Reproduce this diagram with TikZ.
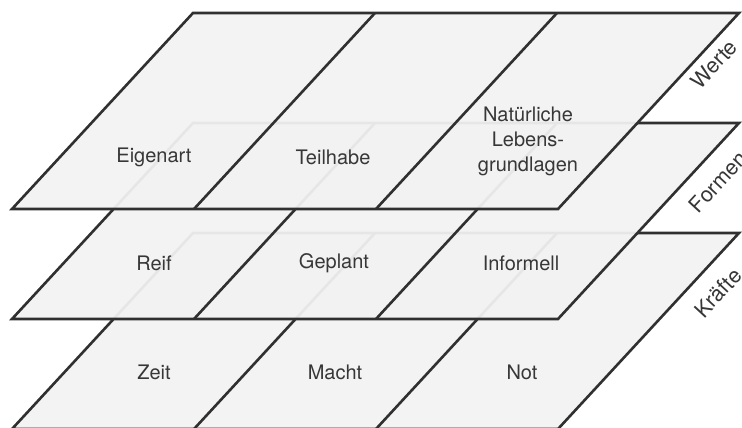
\documentclass[tikz,border=0pt]{standalone}
\usepackage{fontspec}
\setmainfont{TeX Gyre Heros}
\definecolor{planegray}{RGB}{242,242,242}
\definecolor{edgegray}{RGB}{48,48,48}
\definecolor{textgray}{RGB}{55,55,55}
\begin{document}
\begin{tikzpicture}[
    x=1pt, y=1pt,
    plane/.style={draw=edgegray, line width=2.6pt, fill=planegray,
                  fill opacity=0.94, line join=miter},
    divider/.style={draw=edgegray, line width=2.6pt},
    cell/.style={text=textgray, align=center,
                 font=\fontsize{20}{25}\selectfont},
    layer/.style={text=textgray, rotate=47.3,
                  font=\fontsize{21.5}{25}\selectfont},
]
\useasboundingbox (0,0) rectangle (742,428);

% Bottom layer: Kraefte
\begin{scope}[yshift=-220pt]
\filldraw[plane] (12,219) -- (558,219) -- (739,415) -- (193,415) -- cycle;
\draw[divider] (194,219) -- (375,415);
\draw[divider] (376,219) -- (557,415);
\node[cell] (zeit) at (154,276) {Zeit};
\node[cell] (macht) at (335,276) {Macht};
\node[cell] (not) at (522,276) {Not};
\node[layer] (kraefte) at (718,355) {Kräfte};
\end{scope}

% Middle layer: Formen
\begin{scope}[yshift=-110pt]
\filldraw[plane] (12,219) -- (558,219) -- (739,415) -- (193,415) -- cycle;
\draw[divider] (194,219) -- (375,415);
\draw[divider] (376,219) -- (557,415);
\node[cell] (reif) at (154,275) {Reif};
\node[cell] (geplant) at (334,275) {Geplant};
\node[cell] (informell) at (521,275) {Informell};
\node[layer] (formen) at (718,356) {Formen};
\end{scope}

% Top layer: Werte
\filldraw[plane] (12,219) -- (558,219) -- (739,415) -- (193,415) -- cycle;
\draw[divider] (194,219) -- (375,415);
\draw[divider] (376,219) -- (557,415);
\node[cell] (eigenart) at (154,271) {Eigenart};
\node[cell] (teilhabe) at (333,271) {Teilhabe};
\node[cell] (natur) at (528,287) {Natürliche\\Lebens-\\grundlagen};
\node[layer] (werte) at (714,364) {Werte};
\end{tikzpicture}
\end{document}
